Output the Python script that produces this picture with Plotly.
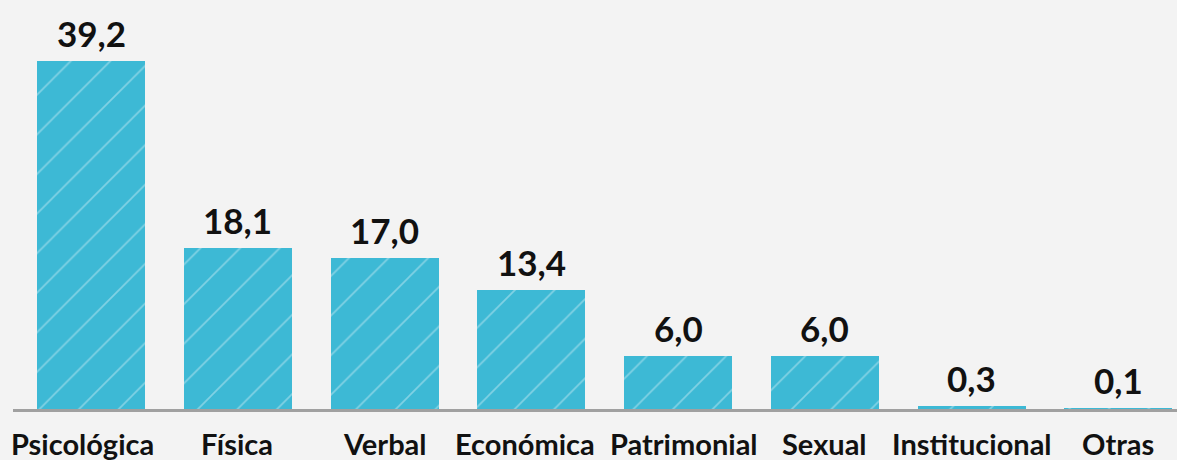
import plotly.graph_objects as go

categories = ["Psicológica", "Física", "Verbal", "Económica", "Patrimonial",
              "Sexual", "Institucional", "Otras"]
values = [39.2, 18.1, 17.0, 13.4, 6.0, 6.0, 0.3, 0.1]
value_labels = ["39,2", "18,1", "17,0", "13,4", "6,0", "6,0", "0,3", "0,1"]

FONT = "Lato, 'Open Sans', sans-serif"
BAR_COLOR = "#3db9d5"
x_pos = list(range(len(categories)))
# small horizontal nudges so neighbouring category names do not collide
label_nudge = [-9, -1, 0, -6, 6, 0, 0, 0]

fig = go.Figure()
fig.add_trace(go.Bar(
    x=x_pos,
    y=values,
    width=0.736,
    marker=dict(
        color=BAR_COLOR,
        line=dict(width=0),
        pattern=dict(shape="/", size=28, solidity=0.06,
                     fgcolor="rgba(255,255,255,0.7)", bgcolor=BAR_COLOR,
                     fillmode="overlay"),
    ),
    hoverinfo="skip",
))

# value labels above each bar
for xi, v, lab in zip(x_pos, values, value_labels):
    fig.add_annotation(
        x=xi, y=v, text=lab, showarrow=False,
        yanchor="bottom", yshift=5,
        font=dict(family=FONT, size=35, color="#111111", weight="bold"),
    )

# category names under the axis line
for xi, cat, dx in zip(x_pos, categories, label_nudge):
    fig.add_annotation(
        x=xi, y=0, text=cat, showarrow=False,
        yanchor="top", yshift=-15, xshift=dx,
        font=dict(family=FONT, size=29, color="#111111", weight="bold"),
    )

fig.update_layout(
    width=1177, height=460,
    margin=dict(l=13, r=0, t=0, b=51),
    paper_bgcolor="#f3f3f3",
    plot_bgcolor="#f3f3f3",
    showlegend=False,
    bargap=0,
)
fig.update_xaxes(
    range=[-0.532, 7.40],
    showticklabels=False, automargin=False,
    showline=True, linecolor="#a0a0a0", linewidth=3,
    showgrid=False, zeroline=False, ticks="",
)
fig.update_yaxes(
    range=[0, 46.07], visible=False, showgrid=False, zeroline=False,
    automargin=False,
)

fig.write_html("out.html")
